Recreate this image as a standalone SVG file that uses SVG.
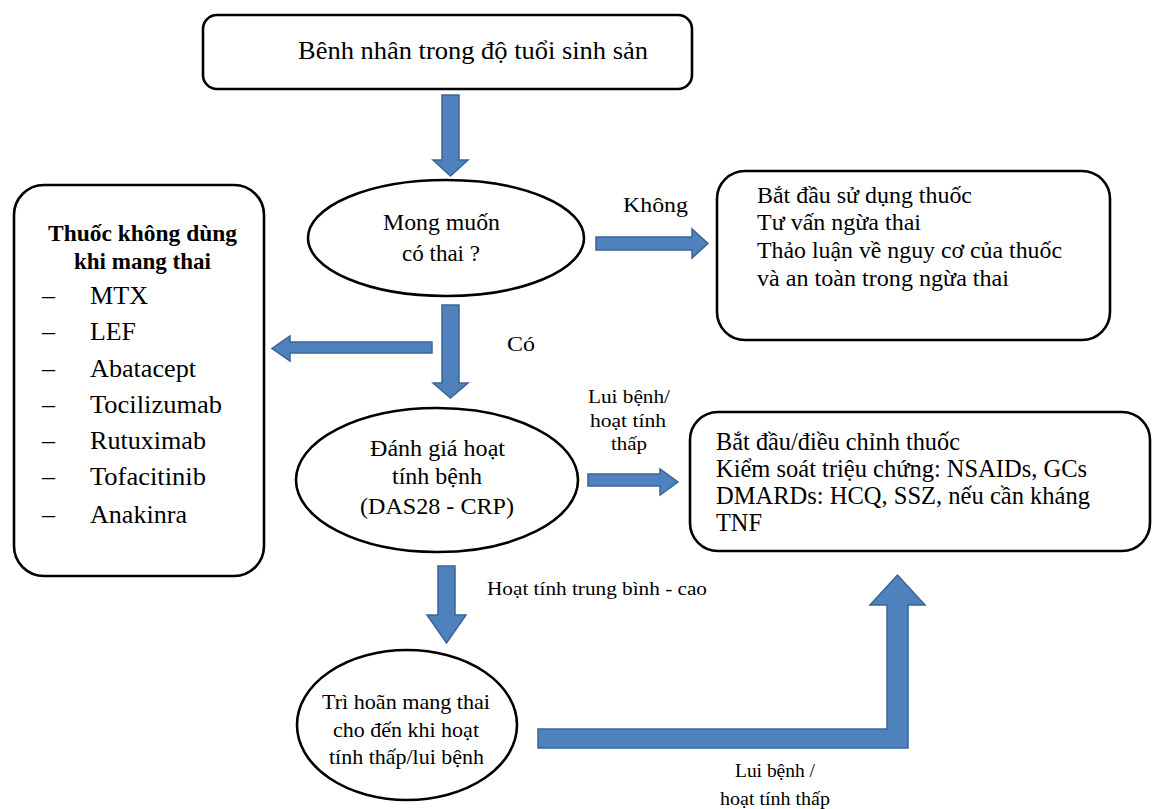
<svg xmlns="http://www.w3.org/2000/svg" width="1152" height="809" viewBox="0 0 1152 809">
<style>
.box{fill:#fff;stroke:#000;stroke-width:2.6}
.arr{fill:#4f81bd;stroke:#3a6496;stroke-width:1.5;stroke-linejoin:miter}
.n{font:24px "Liberation Serif","Times New Roman",serif;fill:#000}
.l{font:26px "Liberation Serif","Times New Roman",serif;fill:#000}
.s{font:19px "Liberation Serif","Times New Roman",serif;fill:#000}
.k{font:22px "Liberation Serif","Times New Roman",serif;fill:#000}
.m{font:24.5px "Liberation Serif","Times New Roman",serif;fill:#000}
.e{font:22px "Liberation Serif","Times New Roman",serif;fill:#000}
.b{font:bold 23.5px "Liberation Serif","Times New Roman",serif;fill:#000}
</style>
<rect width="1152" height="809" fill="#fff"/>
<g id="connectors">
<polygon class="arr" points="442,95 459,95 459,160 468,160 450.5,176 433,160 442,160"/>
<polygon class="arr" points="596,237 692,237 692,229 708,243.5 692,258 692,250 596,250"/>
<polygon class="arr" points="432,342 290,342 290,336 272,348.5 290,361 290,353 432,353"/>
<polygon class="arr" points="442,305 459,305 459,383 468,383 450.5,398 433,383 442,383"/>
<polygon class="arr" points="588,474 660,474 660,469 678,482 660,495 660,486 588,486"/>
<polygon class="arr" points="438,566 455,566 455,615 466,615 446.5,643 427,615 438,615"/>
<polygon class="arr" points="538,729 887,729 887,605 870,605 897.5,575 925,605 908,605 908,748 538,748"/>
<text class="k" x="623" y="212" textLength="65" lengthAdjust="spacingAndGlyphs">Không</text>
<text class="k" x="507" y="351" textLength="28" lengthAdjust="spacingAndGlyphs">Có</text>
<text class="s" x="588" y="403" textLength="82" lengthAdjust="spacingAndGlyphs">Lui bệnh/</text>
<text class="s" x="590" y="427" textLength="76" lengthAdjust="spacingAndGlyphs">hoạt tính</text>
<text class="s" x="611" y="450" textLength="36" lengthAdjust="spacingAndGlyphs">thấp</text>
<text class="s" x="487" y="595" textLength="220" lengthAdjust="spacingAndGlyphs">Hoạt tính trung bình - cao</text>
<text class="s" x="735" y="777" textLength="80" lengthAdjust="spacingAndGlyphs">Lui bệnh /</text>
<text class="s" x="720" y="805" textLength="110" lengthAdjust="spacingAndGlyphs">hoạt tính thấp</text>
</g>
<g id="start">
<rect class="box" x="203" y="15" width="489" height="74" rx="14"/>
<text class="l" x="298" y="59" textLength="350" lengthAdjust="spacingAndGlyphs">Bênh nhân trong độ tuổi sinh sản</text>
</g>
<g id="wish">
<ellipse class="box" cx="446" cy="238" rx="138" ry="58"/>
<text class="n" x="383" y="230" textLength="117" lengthAdjust="spacingAndGlyphs">Mong muốn</text>
<text class="n" x="402" y="261" textLength="78" lengthAdjust="spacingAndGlyphs">có thai ?</text>
</g>
<g id="no-branch">
<rect class="box" x="717" y="171" width="393" height="169" rx="28"/>
<text class="n" x="757" y="203" textLength="215" lengthAdjust="spacingAndGlyphs">Bắt đầu sử dụng thuốc</text>
<text class="n" x="757" y="230" textLength="164" lengthAdjust="spacingAndGlyphs">Tư vấn ngừa thai</text>
<text class="n" x="757" y="258" textLength="305" lengthAdjust="spacingAndGlyphs">Thảo luận về nguy cơ của thuốc</text>
<text class="n" x="757" y="286" textLength="252" lengthAdjust="spacingAndGlyphs">và an toàn trong ngừa thai</text>
</g>
<g id="avoid-drugs">
<rect class="box" x="14" y="185" width="250" height="391" rx="30"/>
<text class="b" x="48" y="241" textLength="189" lengthAdjust="spacingAndGlyphs">Thuốc không dùng</text>
<text class="b" x="74" y="269" textLength="137" lengthAdjust="spacingAndGlyphs">khi mang thai</text>
<text class="l" x="42" y="304">–</text><text class="l" x="90" y="304" textLength="58" lengthAdjust="spacingAndGlyphs">MTX</text>
<text class="l" x="42" y="340">–</text><text class="l" x="90" y="340" textLength="46" lengthAdjust="spacingAndGlyphs">LEF</text>
<text class="l" x="42" y="377">–</text><text class="l" x="90" y="377" textLength="106" lengthAdjust="spacingAndGlyphs">Abatacept</text>
<text class="l" x="42" y="413">–</text><text class="l" x="90" y="413" textLength="132" lengthAdjust="spacingAndGlyphs">Tocilizumab</text>
<text class="l" x="42" y="449">–</text><text class="l" x="90" y="449" textLength="116" lengthAdjust="spacingAndGlyphs">Rutuximab</text>
<text class="l" x="42" y="485">–</text><text class="l" x="90" y="485" textLength="116" lengthAdjust="spacingAndGlyphs">Tofacitinib</text>
<text class="l" x="42" y="523">–</text><text class="l" x="90" y="523" textLength="97" lengthAdjust="spacingAndGlyphs">Anakinra</text>
</g>
<g id="assess">
<ellipse class="box" cx="437" cy="480" rx="141" ry="72"/>
<text class="n" x="370" y="456" textLength="135" lengthAdjust="spacingAndGlyphs">Đánh giá hoạt</text>
<text class="n" x="392" y="484" textLength="90" lengthAdjust="spacingAndGlyphs">tính bệnh</text>
<text class="n" x="360" y="514" textLength="154" lengthAdjust="spacingAndGlyphs">(DAS28 - CRP)</text>
</g>
<g id="low-activity">
<rect class="box" x="690" y="412" width="460" height="139" rx="28"/>
<text class="m" x="716" y="450" textLength="244" lengthAdjust="spacingAndGlyphs">Bắt đầu/điều chỉnh thuốc</text>
<text class="m" x="716" y="477" textLength="371" lengthAdjust="spacingAndGlyphs">Kiểm soát triệu chứng: NSAIDs, GCs</text>
<text class="m" x="716" y="504" textLength="374" lengthAdjust="spacingAndGlyphs">DMARDs: HCQ, SSZ, nếu cần kháng</text>
<text class="m" x="716" y="531" textLength="46" lengthAdjust="spacingAndGlyphs">TNF</text>
</g>
<g id="delay">
<ellipse class="box" cx="407" cy="725" rx="110" ry="75"/>
<text class="e" x="322" y="709" textLength="168" lengthAdjust="spacingAndGlyphs">Trì hoãn mang thai</text>
<text class="e" x="333" y="737" textLength="146" lengthAdjust="spacingAndGlyphs">cho đến khi hoạt</text>
<text class="e" x="329" y="764" textLength="155" lengthAdjust="spacingAndGlyphs">tính thấp/lui bệnh</text>
</g>
</svg>
